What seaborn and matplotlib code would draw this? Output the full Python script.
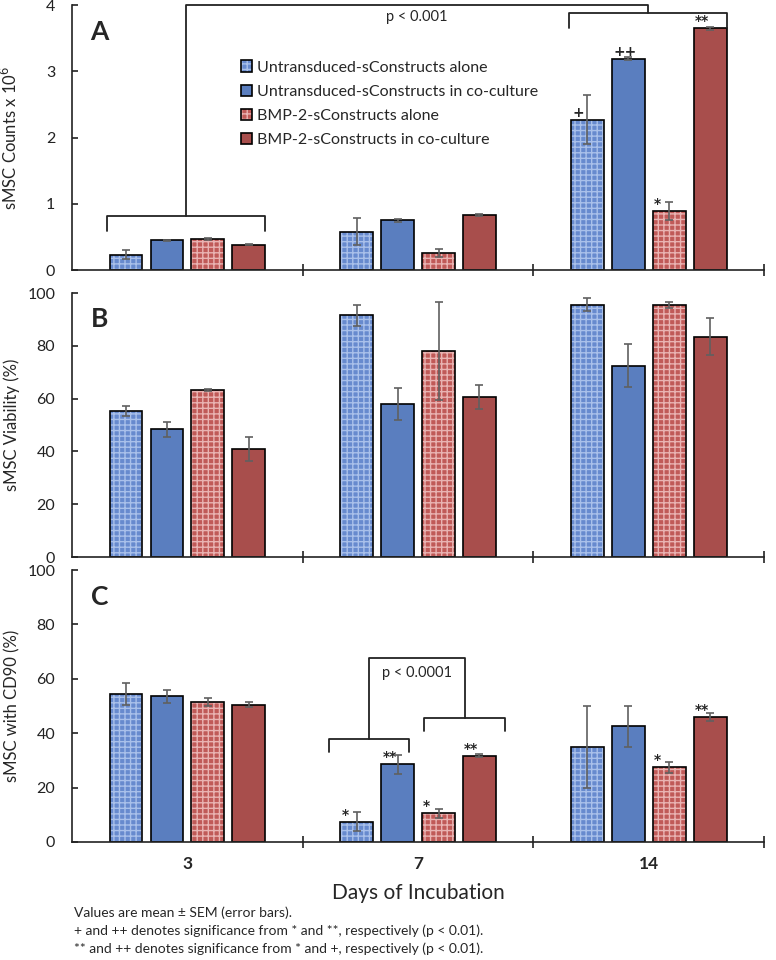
import matplotlib
matplotlib.use("Agg")
import matplotlib.pyplot as plt
import matplotlib.colors as mcolors
import pandas as pd
import seaborn as sns

# data (mean and SEM)
days = ['3', '7', '14']
groups = ['Untransduced-sConstructs alone', 'Untransduced-sConstructs in co-culture',
          'BMP-2-sConstructs alone', 'BMP-2-sConstructs in co-culture']

counts_u_alone = [0.23, 0.58, 2.27]
counts_u_co = [0.45, 0.75, 3.19]
counts_b_alone = [0.47, 0.26, 0.89]
counts_b_co = [0.38, 0.83, 3.65]
counts_sem = [[0.07, 0.21, 0.37], [0.01, 0.02, 0.02], [0.02, 0.06, 0.13], [0.01, 0.02, 0.02]]

viab_u_alone = [55.3, 91.5, 95.5]
viab_u_co = [48.3, 58.0, 72.5]
viab_b_alone = [63.2, 78.0, 95.5]
viab_b_co = [41.0, 60.5, 83.5]
viab_sem = [[2.0, 4.0, 2.5], [3.0, 6.0, 8.0], [0.5, 18.5, 1.0], [4.5, 4.5, 7.0]]

cd90_u_alone = [54.5, 7.5, 35.0]
cd90_u_co = [53.5, 28.5, 42.5]
cd90_b_alone = [51.5, 10.5, 27.5]
cd90_b_co = [50.5, 31.8, 46.0]
cd90_sem = [[4.0, 3.5, 15.0], [2.5, 3.5, 7.5], [1.5, 1.5, 2.0], [1.0, 0.5, 1.5]]

# significance marks: (day index, group index, text)
marks_a = [(2, 0, '+'), (2, 1, '++'), (2, 2, '*'), (2, 3, '**')]
marks_c = [(1, 0, '*'), (1, 1, '**'), (1, 2, '*'), (1, 3, '**'), (2, 2, '*'), (2, 3, '**')]

face = ['#678Ace', '#5A7EBF', '#C05A58', '#A84E4C']
hatch_col = ['#A9C0EA', None, '#E9B3B2', None]


def long_df(series):
    rows = []
    for g, vals in zip(groups, series):
        for d, v in zip(days, vals):
            rows.append({'day': d, 'group': g, 'value': v})
    return pd.DataFrame(rows)


sns.set_theme(style='white')
plt.rcParams['font.family'] = ['Lato', 'DejaVu Sans']
plt.rcParams['hatch.linewidth'] = 1.0

fig = plt.figure(figsize=(7.76, 9.6), dpi=100)
ax_a = fig.add_axes([0.0928, 0.71875, 0.8918, 0.276])
ax_b = fig.add_axes([0.0928, 0.41979, 0.8918, 0.275])
ax_c = fig.add_axes([0.0928, 0.12292, 0.8918, 0.2833])

panels = [
    (ax_a, [counts_u_alone, counts_u_co, counts_b_alone, counts_b_co], counts_sem,
     'sMSC Counts x 10$^6$', 4, 1, 'A'),
    (ax_b, [viab_u_alone, viab_u_co, viab_b_alone, viab_b_co], viab_sem,
     'sMSC Viability (%)', 100, 20, 'B'),
    (ax_c, [cd90_u_alone, cd90_u_co, cd90_b_alone, cd90_b_co], cd90_sem,
     'sMSC with CD90 (%)', 100, 20, 'C'),
]

bars_of = {}
for ax, series, sems, ylab, ymax, ystep, letter in panels:
    df = long_df(series)
    sns.barplot(data=df, x='day', y='value', hue='group', order=days, hue_order=groups,
                palette=face, width=0.71, gap=0.2, errorbar=None, edgecolor='black',
                linewidth=1.2, legend=False, ax=ax, saturation=1)
    bars = list(ax.containers)[:4]
    bars_of[letter] = bars
    for i, cont in enumerate(bars):
        for p in cont.patches:
            if hatch_col[i]:
                p.set_hatch('+++')
                p._hatch_color = mcolors.to_rgba(hatch_col[i])
        xs = [p.get_x() + p.get_width() / 2 for p in cont.patches]
        ys = [p.get_height() for p in cont.patches]
        ax.errorbar(xs, ys, yerr=sems[i], fmt='none', ecolor='#606060', elinewidth=1.2,
                    capsize=3, capthick=1.2, zorder=4)

    ax.set_xlim(-0.5, 2.5)
    ax.set_ylim(0, ymax)
    ax.set_yticks(range(0, ymax + 1, ystep))
    ax.tick_params(axis='y', direction='in', length=4, width=1.2, labelsize=11.5,
                   left=True, pad=12, colors='#222222')
    ax.set_xticks([0.5, 1.5, 2.5])
    ax.set_xticklabels([])
    ax.set_xticks([0, 1, 2], minor=True)
    ax.tick_params(axis='x', which='major', direction='inout', length=9, width=1.2,
                   bottom=True, colors='#222222')
    ax.tick_params(axis='x', which='minor', length=0)
    ax.set_xlabel('')
    ax.set_ylabel(ylab, fontsize=12)
    ax.yaxis.set_label_coords(-0.075, 0.5)
    for s in ['top', 'right']:
        ax.spines[s].set_visible(False)
    for s in ['left', 'bottom']:
        ax.spines[s].set_color('#222222')
        ax.spines[s].set_linewidth(1.2)
    ax.text(0.04, 0.9, letter, transform=ax.transAxes, fontsize=19, fontweight='bold',
            va='center', ha='center')
    ax.grid(False)

ax_c.set_xticks([0, 1, 2], minor=True)
ax_c.set_xticklabels(days, minor=True, fontsize=12.5, fontweight='bold')
ax_c.tick_params(axis='x', which='minor', pad=10)
ax_c.set_xlabel('Days of Incubation', fontsize=15, labelpad=8)


def put_marks(ax, bars, marks):
    for d, g, txt in marks:
        p = bars[g].patches[d]
        ax.text(p.get_x() + 0.005, p.get_height(), txt,
                fontsize=10, fontweight='bold', ha='left', va='bottom',
                family=['DejaVu Sans'])


put_marks(ax_a, bars_of['A'], marks_a)
put_marks(ax_c, bars_of['C'], marks_c)

bk = dict(color='#222222', lw=1.3, clip_on=False, zorder=5)

# panel A brackets
c = bars_of['A']
l3, r3 = c[0].patches[0].get_x() - 0.01, c[3].patches[0].get_x() + c[3].patches[0].get_width()
l14, r14 = c[0].patches[2].get_x() - 0.01, c[3].patches[2].get_x() + c[3].patches[2].get_width()
m3, m14 = (l3 + r3) / 2, (l14 + r14) / 2
ax_a.plot([l3, l3, r3, r3], [0.59, 0.82, 0.82, 0.59], **bk)
ax_a.plot([m3, m3, m14, m14], [0.82, 4.0, 4.0, 3.88], **bk)
ax_a.plot([l14, l14, r14, r14], [3.65, 3.88, 3.88, 3.65], **bk)
ax_a.text((m3 + m14) / 2, 3.82, 'p < 0.001', ha='center', va='center', fontsize=10.5)

# panel A legend
handles = [cont.patches[0] for cont in bars_of['A']]
ax_a.legend(handles, groups, loc='upper left', bbox_to_anchor=(0.235, 0.815), frameon=False,
            fontsize=11.5, handlelength=0.7, handleheight=0.7, handletextpad=0.3,
            labelspacing=0.62, borderaxespad=0)

# panel C brackets
c = bars_of['C']
b1, b2, b3, b4 = [c[k].patches[1] for k in range(4)]
la, ra = b1.get_x() - 0.05, b2.get_x() + b2.get_width() - 0.02
lb, rb = b3.get_x() + 0.01, b4.get_x() + b4.get_width() + 0.04
ma, mb = (la + ra) / 2, (lb + rb) / 2
ax_c.plot([la, la, ra, ra], [33.1, 37.9, 37.9, 33.1], **bk)
ax_c.plot([lb, lb, rb, rb], [40.8, 45.6, 45.6, 40.8], **bk)
ax_c.plot([ma, ma, mb, mb], [37.9, 67.6, 67.6, 45.6], **bk)
ax_c.text((ma + mb) / 2, 62.0, 'p < 0.0001', ha='center', va='center', fontsize=10.5)

notes = ['Values are mean \u00b1 SEM (error bars).',
         '+ and ++ denotes significance from * and **, respectively (p < 0.01).',
         '** and ++ denotes significance from * and +, respectively (p < 0.01).']
for k, line in enumerate(notes):
    fig.text(0.095, 1 - (913 + 18 * k) / 960, line, fontsize=10, va='center', ha='left')

fig.savefig('out.png', dpi=100)
